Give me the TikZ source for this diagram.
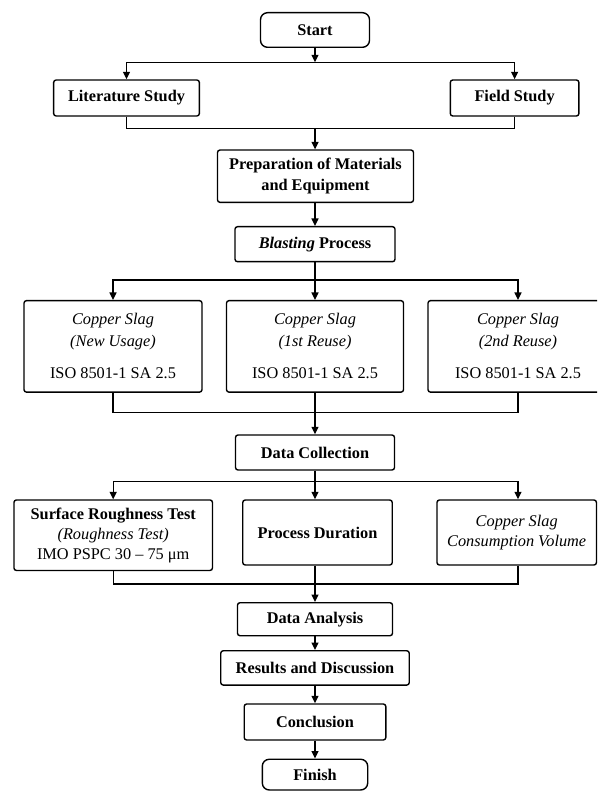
\documentclass[tikz,border=0pt]{standalone}
\usepackage{fontspec}
\setmainfont{Liberation Serif}
\usetikzlibrary{arrows.meta}
\begin{document}
\begin{tikzpicture}[x=1pt,y=-1pt,
  box/.style={draw=black, line width=1.4pt, rounded corners=2.5pt, inner sep=0pt, align=center,
    font=\fontsize{16.3}{20.5}\selectfont\bfseries},
  term/.style={box, rounded corners=7pt},
  arr/.style={line width=1.4pt, -{Triangle[length=7.5pt,width=7pt]}},
  ln/.style={line width=1.4pt}]
\useasboundingbox (0,0) rectangle (597,791);
\clip (0,0) rectangle (597,791);
\fill[white] (0,0) rectangle (597,791);

% nodes
\node[term, minimum width=109pt, minimum height=34.6pt] (start) at (315,30) {Start};
\node[box, minimum width=145.7pt, minimum height=36pt] (lit) at (126.5,98) {Literature Study};
\node[box, minimum width=128.6pt, minimum height=36pt] (field) at (514.6,98) {Field Study};
\node[box, minimum width=196pt, minimum height=52.3pt] (prep) at (315.5,176.2) {Preparation of Materials\\and Equipment};
\node[box, minimum width=160pt, minimum height=35pt] (blast) at (315,244.2) {\textit{Blasting} Process};

\node[box, minimum width=178pt, minimum height=91.5pt, font=\fontsize{16.3}{22}\selectfont] (cs1) at (113,346.4)
  {\textit{Copper Slag}\\\textit{(New Usage)}\\[10pt]ISO 8501-1 SA 2.5};
\node[box, minimum width=177pt, minimum height=91.5pt, font=\fontsize{16.3}{22}\selectfont] (cs2) at (315,346.4)
  {\textit{Copper Slag}\\\textit{(1st Reuse)}\\[10pt]ISO 8501-1 SA 2.5};
\node[box, minimum width=180pt, minimum height=91.5pt, font=\fontsize{16.3}{22}\selectfont] (cs3) at (518,346.4)
  {\textit{Copper Slag}\\\textit{(2nd Reuse)}\\[10pt]ISO 8501-1 SA 2.5};

\node[box, minimum width=159pt, minimum height=35pt] (dc) at (315,452.5) {Data Collection};

\node[box, minimum width=198.5pt, minimum height=70.5pt, font=\fontsize{16.3}{20}\selectfont] (srt) at (113.2,535.2)
  {\textbf{Surface Roughness Test}\\\textit{(Roughness Test)}\\IMO PSPC 30 – 75 μm};
\node[box, minimum width=149.5pt, minimum height=65pt] (pd) at (317.5,532.5) {Process Duration};
\node[box, minimum width=159.5pt, minimum height=65pt, font=\fontsize{16.3}{20.5}\selectfont\itshape] (csv) at (516.7,532.5)
  {Copper Slag\\Consumption Volume};

\node[box, minimum width=155pt, minimum height=33pt] (da) at (315,619.2) {Data Analysis};
\node[box, minimum width=188.5pt, minimum height=34.3pt] (rd) at (315,667.9) {Results and Discussion};
\node[box, minimum width=141.6pt, minimum height=36pt] (conc) at (315,722) {Conclusion};
\node[term, minimum width=105.4pt, minimum height=30.7pt] (fin) at (315,774.6) {Finish};

% junction coordinates
\coordinate (s1) at (315,62.3);
\coordinate (m1) at (315,128.3);
\coordinate (s2) at (315,280);
\coordinate (m2) at (315,412.7);
\coordinate (s3) at (315,481.7);
\coordinate (m3) at (315,584);

% connectors
\draw[arr] (start) -- (s1);
\draw[arr] (s1) -| (lit);
\draw[arr] (s1) -| (field);
\draw[ln] (lit) |- (m1);
\draw[ln] (field) |- (m1);
\draw[arr] (m1) -- (m1 |- prep.north);
\draw[arr] (m1 |- prep.south) -- (blast);

\draw[ln] (blast) -- (s2);
\draw[arr] (s2) -| (cs1);
\draw[arr] (s2) -- (cs2);
\draw[arr] (s2) -| (cs3);
\draw[ln] (cs1) |- (m2);
\draw[ln] (cs3) |- (m2);
\draw[arr] (cs2) -- (dc);

\draw[ln] (dc) -- (s3);
\draw[arr] (s3) -| (srt);
\draw[arr] (s3) -- (s3 |- pd.north);
\draw[arr] (s3) -| ([xshift=1.3pt]csv.north);
\draw[ln] (srt) |- (m3);
\draw[ln] ([xshift=1.3pt]csv.south) |- (m3);
\draw[arr] (s3 |- pd.south) -- (da);

\draw[arr] (da) -- (rd);
\draw[arr] (rd) -- (conc);
\draw[arr] (conc) -- (fin);
\end{tikzpicture}
\end{document}
